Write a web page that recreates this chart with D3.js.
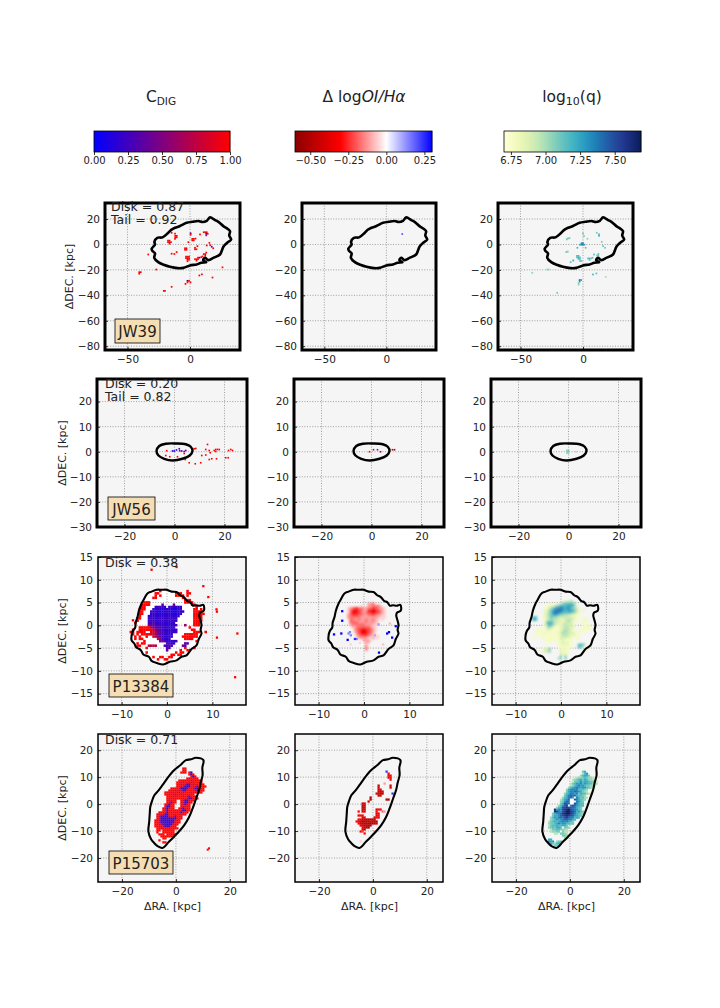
<!DOCTYPE html>
<html>
<head>
<meta charset="utf-8">
<script src="https://cdn.jsdelivr.net/npm/d3@7"></script>
<style>
  html, body { margin: 0; padding: 0; background: #fff; }
  text { font-family: "DejaVu Sans", sans-serif; fill: #222; }
  .grid line { stroke: #8a8a8a; stroke-width: 0.8; stroke-dasharray: 1 1.6; }
  .tick text { font-size: 10.5px; }
  .tick line { stroke: #000; stroke-width: 0.8; }
  .domain { display: none; }
</style>
</head>
<body>
<script>
// galaxy names, fractions and axis ticks
const names = ['JW39', 'JW56', 'P13384', 'P15703'];
const diskTexts = ['Disk = 0.87', 'Disk = 0.20', 'Disk = 0.38', 'Disk = 0.71'];
const tailTexts = ['Tail = 0.92', 'Tail = 0.82', null, null];
const xTicks = [[-50, 0], [-20, 0, 20], [-10, 0, 10], [-20, 0, 20]];
const yTicks = [[-80, -60, -40, -20, 0, 20], [-30, -20, -10, 0, 10, 20],
  [-15, -10, -5, 0, 5, 10, 15], [-20, -10, 0, 10, 20]];
const xLimits = [[-68, 40], [-31, 29], [-15.2, 17.4], [-28.9, 26]];
const yLimits = [[-83, 32.6], [-30, 29], [-17.5, 15], [-28.9, 26]];

// colour bars
const cbarDomains = [[0, 1], [-0.6, 0.3], [6.7, 7.69]];
const cbarTicks = [[0, 0.25, 0.5, 0.75, 1], [-0.5, -0.25, 0, 0.25], [6.75, 7, 7.25, 7.5]];

// outlines of the disks, kpc
const jw39Contour = [[-30.7,-3.4],[-28,0],[-28.5,2],[-26.2,5.2],[-22,5.6],[-17.4,9.2],[-15,11.5],[-12,13.1],[-8,14.5],[-2.7,17],
  [2,17.8],[6.7,18.4],[10,17.6],[13.4,18.6],[16,21.3],[20,19.2],[23,17.6],[26.7,14.4],[29,13],[32,10.5],[31.4,7],[32.9,3.9],
  [30,1.5],[26.7,-1.8],[25.4,-5],[24,-7.9],[19,-10.4],[14.7,-12.3],[12,-10.5],[10.5,-12.5],[13,-14],[9,-14.4],[5.3,-15.7],
  [0,-16.5],[-5.3,-18.4],[-10,-18.6],[-16,-17.6],[-21,-16],[-25.4,-13.9],[-28.6,-10.5],[-28,-7],[-30,-5.2]];
const jw56Contour = [[-7.2,0.3],[-6.1,2.3],[-3.5,3.2],[0.5,3.3],[4.5,3],[6.5,2],[7.2,0.3],[6.1,-1.5],[3.2,-2.8],[-0.8,-3.5],[-4.1,-2.8],[-6.4,-1.5]];
const p13384Contour = [[-7.8,-2.2],[-7.5,-1.2],[-7,-0.5],[-6.9,0.6],[-6.5,1.8],[-6.2,3.2],[-5.6,4.8],[-5.2,5.5],[-4.3,7],[-3.4,7.4],[-2.3,7.8],[-1.2,7.8],
  [-0.1,7.8],[1,7.4],[2.1,7.3],[2.9,6.6],[3.7,6.2],[4.5,5.3],[5.1,5.1],[5.7,4.3],[6.4,4.4],[7.2,4.3],[8,4.5],[8.2,3.8],[8.1,3.2],[7.3,2.8],[7.1,2.2],[7.4,1],
  [7.6,0],[7.4,-1],[7.6,-1.8],[7,-3],[6.5,-4.4],[5.4,-5.2],[4.3,-6.6],[3.2,-6.9],[2.1,-7.7],[0.6,-8],[-0.8,-8.6],[-2.2,-8.3],[-3.4,-7.8],[-4,-6.9],[-5.2,-6.4],
  [-5.8,-5.4],[-6.8,-4.8],[-7.2,-4],[-7.8,-3.3]];
const p15703Contour = [[-10.2,-10.2],[-9.9,-6.5],[-9.7,-3.5],[-9.5,-1],[-8.9,1],[-8,3.3],[-6.5,5],[-5,7],[-3,9.8],[-0.6,12.6],[1.6,14.4],[3.7,16.3],[5.6,16.6],
  [7.4,17.2],[10.2,16.3],[9.8,13.5],[9.9,10.7],[9.2,8],[8.6,5.2],[7.4,1.8],[6.2,-1.6],[4.8,-5],[3.1,-7.8],[1.3,-10],[-0.6,-12],[-2.6,-14],[-5,-16.3],[-6.8,-15.6],[-8,-14.5],[-9.2,-13]];
const contours = [jw39Contour, jw56Contour, p13384Contour, p15703Contour];

// sparse maps: [ra, dec, value]
const jw39Dig = [[-17.6,3,1],[-16.4,3,1],[-17.6,1.8,1],[-16.4,1.8,1],[-15.2,1.8,1],[-16.4,0.6,1],[-11.8,6.8,1],[-10.6,6.8,1],[-11.8,5.6,1],[-10.6,5.6,1],[-12,4.4,1],
  [1.8,4.4,1],[3,4.4,1],[1.8,3.2,1],[3,3.2,1],[4.4,4.6,1],[0.5,8.8,0.3],[0.5,7.6,1],[11,9.6,1],[12.2,9.6,1],[13.4,9.6,1],[13,8.4,0.15],[13,7.2,0.6],[14.2,8.4,1],
  [17.4,-1.8,0.25],[16.2,-0.6,1],[18.6,-3,1],[-4,-3,1],[-2.8,-3,1],[-4,-4.2,1],[-2.8,-4.2,1],[4,-2.6,1],[4,-3.8,1],[5.2,-3.8,1],
  [-3.2,-9.6,1],[-2,-9.6,1],[-0.8,-9.6,1],[-3.2,-10.8,1],[-2,-10.8,1],[-0.8,-10.8,1],[-2,-12,1],[-0.8,-12,1],[-2,-13.2,1],
  [4,-11.6,1],[5.2,-11.6,1],[6.4,-10.4,1],[7.6,-10.4,0.3],[6.4,-11.6,1],[5.2,-12.8,1],[9,-10,1],[11,-7.6,1],[12.2,-7.6,1],[12.2,-8.8,1],[10,-9.4,1],[13,-6.4,1],
  [-2,-28.6,0.2],[-0.8,-28.6,0.95],[-2,-29.8,1],[0.4,-29.8,1],[-3.6,-31,1],[-40.6,-21.8,1],[-39.4,-21.8,1],[-40.6,-23,1],[-21,-36.5,1],[-20,-36.5,1],
  [7.5,-24.4,1],[9.5,-23.5,1],[26,-18,1],[18,-26,1],[-14.7,-33.3,1],[-27,-19.7,1],[-30,17,1],[-33.4,-7.9,1],[-10.7,-6,1],[-12.5,-7.5,1],[-14.7,-7.3,1],
  [-1.3,1.8,1],[15.5,1.3,1],[13.4,-0.8,1],[8,7.9,1],[-14.7,9.2,1],[-12,8.5,1],[5.9,-1.3,1]];
const jw39Oi = [[12.8,8.2,0.2]];
const jw39Q = [[-1.2,1,7.3],[0,1,7.32],[-1.2,-0.2,7.35],[0,-0.2,7.38],[-2.4,-0.2,7.25],[1.2,-0.2,7.25],
  [-4.8,-9,7.18],[-3.6,-9,7.2],[-4.8,-10.2,7.16],[-3.6,-10.2,7.2],[-2.4,-10.2,7.14],[-3.6,-11.4,7.15],[-2.4,-11.4,7.18],[-1.2,-13,7.12],[-2.4,-13,7.14],
  [4,-11,7.15],[5.2,-11,7.18],[6.4,-11,7.14],[5.2,-12.2,7.12],[7.6,-10.5,7.16],[12.3,-7.5,7.15],[12.3,-8.7,7.12],[11.2,-8.7,7.1],[13,-12,7.1],
  [12.8,8,7.18],[12.8,6.8,7.22],[11,9.2,7.1],[-12,4.7,7.12],[-10.8,5,7.1],[-13,4,7.1],[-2.7,-28,7.42],[-1.5,-28,7.3],[-2.7,-29.2,7.3],[-3.5,-30.4,7.08],[-3.5,-31.6,7.05],
  [-13.4,-6,7.1],[-12.2,-5.6,7.08],[-20.6,-38,7.1],[-40.6,-22.3,7.05],[-28.6,-19.7,7.05],[-27.5,-19.7,7.05],[-7.8,-12.6,7.25],[-9.9,-13.9,7.15],
  [0,8.7,7.1],[0.8,6.6,7.1],[2.1,-2.6,7.15],[-4.5,-2.6,7.2],[3.5,4.5,7.05],[15,2.1,7.08],[17.6,-2.6,7.1],[16,-1.3,7.12],[10.7,-22.8,7.15],[8,-23.6,7.2],[18.2,-25.5,7],[8.8,-7.9,7.15]];
const jw56Dig = [[-3.1,0.4,1],[-3.5,-1.5,1],[-1.9,-2,1],[1.2,-2,1],[3.9,-0.7,1],[4.3,-3.1,1],[7.9,1.2,1],[8.5,1.3,1],[13.2,2.9,1],[12.5,0.9,1],[12.5,-1.3,1],[10.9,-1.5,1],
  [13.9,0.5,1],[14.3,-0.4,1],[15.9,0.5,1],[16.5,0.9,1],[16.5,0.1,1],[17.2,0.9,1],[17.9,0.9,1],[21.6,0.5,1],[22.5,0.9,1],[23.2,0.5,1],[20.5,-2.4,1],[21.5,-2.4,1],
  [8.3,-4.8,1],[10.5,-4.4,1],[5.9,-4.4,1],[13.9,-3.1,1],[14.9,-2.8,1],[16.8,-2.8,1],
  [-0.8,0.3,0.1],[-0.1,0.3,0.05],[0.8,0.7,0.05],[1.9,1.2,0.4],[2.1,0.4,0.4],[2.9,0.3,0.35],[3.9,0.1,0.4],[4.5,0.5,0.45]];
const jw56Oi = [[-0.8,0,-0.3],[0.8,0.8,-0.4],[3.6,0,-0.5],[2.4,0.8,0.25],[8.4,0.8,-0.5],[9.2,0.8,-0.55]];
const jw56Q = [[-0.6,0.6,7.05],[0,0.6,7.08],[-0.6,0,7.12],[0,0,7.1],[-0.6,-0.6,7.05],[0,-0.6,7.02],[3,0,7]];
const p13384OiSpots = [[-4.8,3.1,0.3],[-4.8,1,0.3],[-5,-1.8,0.3],[-6.6,-2,0.3],[-3.4,-1.8,0.15],[-3.1,-1.5,0.15],[-2.9,-2.2,0.15],[-3.6,-3.2,0.3],[-1.6,-3,0.15],[-2,-3,0.25],
  [2.4,-2.2,0.1],[3.2,0.2,0.12],[5.1,-1.8,0.3],[5.5,-1.5,0.3],[7,-0.2,0.3],[6.2,-2.7,0.3],[3.3,-6,0.3],[5.7,0.4,-0.08],[4.2,-4.2,-0.07],[-2.9,-4.2,-0.05],[-0.9,-3.9,-0.05]];
const p13384DigSpots = [[-3.4,12.2,1],[2.1,12.8,1],[8,8.6,1],[9.1,6.2,1],[15,-11.4,1],[15.5,-1.8,1],[11,-2.7,1],[10.9,3.5,1],[11,3,1],[-7.5,1.1,1]];
const p15703DigSpots = [[12.3,-16.4,1],[11.8,-16.9,1]];

// raster maps, one hex digit per cell from the low to the high end of the colour bar, "." empty, "_" white
const p13384DigRows = [
  '',
  '',
  '...............f...........f',
  '.............ff.......fff..ff',
  '.............f.f......ffff.f',
  '............ff...........f',
  '..........................fff',
  '........fff...............ffff',
  '.......ffff.....5....6.......ff',
  '.......ff....34433.343333......f',
  '......fff...3332233322233.....ff.f',
  '......ff...333222333222233....ffff',
  '......ff...33332233322233.....fffff',
  '......f...34333333333333......ffff',
  '.....ff...3433333333334.......ffff',
  '.....f....3433334333343.......ffff',
  '....f.....444433333333........fff',
  '..........6654433333335...9...fff',
  '......fffffa7544333334......f',
  '...f..ffffffb8654333333......ff',
  '..ff.ffff..ddb654433334.......fff..f',
  '...f.f.ffffdc96433333.....ffffff',
  '....f.f..f..da7533333....fffffff',
  '....f.ff......b83333......ffff',
  '........f......66433334........f',
  '.....f.ff.........5333....64',
  '.....ff...bbbb...4444....64',
  '.........f........54......f...f',
  '..................5.....f..ff',
  '.........f............f.ff',
  '....................ff.ff',
  '............f..ff..ff',
  '..............f..ff'];
const p13384OiRows = [
  '',
  '............887',
  '.........9..887778',
  '...98765778877567889',
  '...97555678855456789',
  '...97555678766456789',
  '...87666778877678899',
  '...87777788888888999',
  '....7788788788789.9',
  '....7777888788889',
  '....8777777888899',
  '.....88777777899',
  '......8766566789',
  '......8765456789',
  '......9765456789a',
  '.......87665789.9',
  '........88889.899',
  '..........8889',
  '...........88',
  '.........a.8a',
  '...........79',
  '...........7'];
const p13384QRows = [
  '...............3344',
  '........1...14577775',
  '......1.2235788788862',
  '......11357a9a98a8653',
  '......22579abb98898742.2',
  '......2357aba877776531',
  '......2356887554432211',
  '.77..1235755433433321..1',
  '.87...134544322344321..12',
  '......2677433223442..1.11',
  '......26875322343331...111',
  '......14752112344332...1121',
  '...11.1332111234432...11111',
  '..1111.1211112454321.1111',
  '..11112111112354433211',
  '..1.11111111124442221',
  '.1...1.111111333221.11',
  '......1111111221111..1',
  '.......11...113221',
  '............1222211..776',
  '......1.....1111111..76.11',
  '....1.336....2221.......2',
  '.....1335....2111',
  '.............2221',
  '.............5.5',
  '............46_6'];
const p15703DigRows = [
  '..............ff',
  '..............ef',
  '.............fff.f4',
  '.................f5f',
  '..................f3f',
  '................eeffef',
  '............ffeeffeeffff',
  '...........ffeeffddeefff',
  '...........ffeed55fdfefff',
  '...........efed443fdd6efff',
  '........fffff4436fee55dff',
  '.......fffeeed53fffee66ff',
  '.....fffeeeedfefffefeeff',
  '.....ffeeedefeefffef',
  '......fffeefffefd6fff',
  '......ffefffffefd55eff',
  '......fdfff..fe44eff',
  '......ff5ff..fd44ef',
  '.....fe4ff...fe5ef',
  '.....f43ff...feeef',
  '....fd4eff..fd4eff',
  '....ff4ffffffe44ef',
  '..fffe5fffeff5eff',
  '.fdee54efefffeef',
  '.fe5443dff6ffe',
  '.fe43344664eff',
  'fed4333443def',
  'ffe5443344eff',
  'ffed54434def',
  'fffed443eff',
  '.ffeeffeffff',
  '.ff.ffffff',
  '.f..ffffff',
  '..fff.fffff',
  '...fffffff',
  '....ff',
  '..f',
  '....ff'];
const p15703OiRows = [
  '',
  '...................e',
  '....................5',
  '....................45',
  '....................45',
  '.....................4',
  '',
  '..................8',
  '...............3.....4',
  '...............3.....3',
  '...............34',
  '...............323',
  '..............4322....e',
  '...............33',
  '...........2',
  '...........2.......22',
  '..........3',
  '.......34',
  '.......23',
  '.......23',
  '.......23.....455',
  '.....5.34.....5..78',
  '..............44',
  '.....455......45',
  '.......35....354',
  '.....453222222',
  '....54312223322',
  '.....5322221223',
  '......432222',
  '.......4321',
  '.......32',
  '......56.....8',
  '........5',
  '',
  '',
  '',
  '......9'];
const p15703QRows = [
  '..................68',
  '..................479',
  '.................57886',
  '..............3455676554',
  '.............456786875544',
  '.............3667978876653',
  '............46798a79877544',
  '............4578a89766553',
  '...........5789a98997654',
  '..........589a9a77765',
  '..........68a9ba98654',
  '.........578aa8a6877543',
  '.........68abab87765',
  '........578ab9_a86754',
  '.......4689b__ca8765',
  '.......569ba___a976',
  '.......68cbb__ca877',
  '......579bd_acb9877',
  '.....578ccdcbba876',
  '....e8a9cdefcba976',
  '....eda9cdffdcb8976',
  '...689abdeffdca8765',
  '...6889bcdedcb9876',
  '..5798abacdbaa787',
  '..567989abbaa87',
  '.4678789a9a876',
  '.56678a8997766',
  '.4677877886',
  '.5676887_665',
  '..466776554',
  '..45566_644',
  '....44.6654',
  '........665',
  '.........54',
  '.88',
  '.989.567',
  '..86578',
  '....667'];

// which map goes into which panel: [sparse cells, raster rows]
const digMaps = [[jw39Dig, null], [jw56Dig, null], [p13384DigSpots, p13384DigRows], [p15703DigSpots, p15703DigRows]];
const oiMaps = [[jw39Oi, null], [jw56Oi, null], [p13384OiSpots, p13384OiRows], [[], p15703OiRows]];
const qMaps = [[jw39Q, null], [jw56Q, null], [[], p13384QRows], [[], p15703QRows]];
const columnMaps = [digMaps, oiMaps, qMaps];

// cell size and raster corner per map
const cellSizes = [1.35, 0.65, 0.5, 0.74];
const rasterCorners = [
  [null, null, [-9.25, 8.8], [-8, 13.6]],
  [null, null, [-5.25, 5.5], [-9.4, 13.2]],
  [null, null, [-6.8, 5.5], [-8.9, 12.4]]
];

// layout of the figure, pixels
const columnsByRow = [
  [[105, 240], [302, 436], [498, 633]],
  [[97, 247], [294, 444], [491, 641]],
  [[98, 246], [295, 443], [492, 640]],
  [[98, 246], [295, 443], [492, 640]]
];
const rowBands = [[203, 350], [379, 527], [557, 705], [734, 882]];
const frameWidths = [3, 3, 1.5, 1.5];
const contourWidths = [2.6, 2.4, 2.1, 2.1];
const nameBoxes = [[115, 319, 45, 24], [108, 497, 47, 23], [109, 674, 64, 23], [109, 851, 64, 23]];
const diskBaselines = [[111, 211], [105, 388], [105, 567], [105, 744]];
const tailBaselines = [[111, 224], [105, 401]];
const yLabelX = [73, 66, 66, 66];

const blueRed = d3.scaleLinear().domain([0, 1]).range(['#0000ff', '#ff0000']);
const oiColor = d3.scaleLinear().domain([-0.6, -0.3, 0, 0.3]).range(['#8b0000', '#ff0000', '#ffffff', '#0000ff']);
const qColor = d3.scaleSequential(d3.interpolateYlGnBu).domain([6.7, 7.69]);
const colorScales = [blueRed, oiColor, qColor];

const svg = d3.select('body').append('svg').attr('width', 720).attr('height', 1008);

// the smooth P13384 maps look slightly resampled in the original
svg.append('defs').append('filter').attr('id', 'soft')
  .append('feGaussianBlur').attr('stdDeviation', 0.8);

// ---- titles
const titles = svg.append('g').style('font-size', '15.5px');
const t1 = titles.append('text').attr('x', 161).attr('y', 102).attr('text-anchor', 'middle');
t1.append('tspan').text('C');
t1.append('tspan').text('DIG').attr('dy', 3).style('font-size', '10.5px');
const t2 = titles.append('text').attr('x', 364).attr('y', 102).attr('text-anchor', 'middle');
t2.append('tspan').text('Δ log');
t2.append('tspan').text('OI/Hα').style('font-style', 'italic');
const t3 = titles.append('text').attr('x', 572).attr('y', 102).attr('text-anchor', 'middle');
t3.append('tspan').text('log');
t3.append('tspan').text('10').attr('dy', 3).style('font-size', '11px');
t3.append('tspan').text('(q)').attr('dy', -3);

// ---- colour bars
const cbarSpans = [[94, 230], [295, 432], [504, 641]];
cbarSpans.forEach((span, c) => {
  const x = d3.scaleLinear().domain(cbarDomains[c]).range(span);
  const g = svg.append('g');
  d3.range(span[0], span[1]).forEach(px => {
    g.append('rect').attr('x', px).attr('y', 131).attr('width', 1.3).attr('height', 21)
      .attr('fill', colorScales[c](x.invert(px + 0.5)));
  });
  g.append('rect').attr('x', span[0]).attr('y', 131).attr('width', span[1] - span[0]).attr('height', 21)
    .attr('fill', 'none').attr('stroke', '#000').attr('stroke-width', 0.8);
  const ax = g.append('g').attr('transform', 'translate(0,152)')
    .call(d3.axisBottom(x).tickValues(cbarTicks[c]).tickFormat(d3.format('.2f')).tickSize(3).tickPadding(2));
  ax.selectAll('text').style('font-size', '10px');
});

// ---- panels
const line = d3.line().curve(d3.curveCatmullRomClosed.alpha(0.5));

names.forEach((name, r) => {
  columnMaps.forEach((maps, c) => {
    const [x0, x1] = columnsByRow[r][c];
    const [y0, y1] = rowBands[r];
    const x = d3.scaleLinear().domain(xLimits[r]).range([x0, x1]);
    const y = d3.scaleLinear().domain(yLimits[r]).range([y1, y0]);
    const color = colorScales[c];
    const g = svg.append('g');

    g.append('rect').attr('x', x0).attr('y', y0).attr('width', x1 - x0).attr('height', y1 - y0).attr('fill', '#f5f5f5');

    const path = line.x(d => x(d[0])).y(d => y(d[1]));
    // P13384 shows white where the C_DIG map has no value inside the disk
    if (r === 2 && c === 0) g.append('path').attr('d', path(contours[r])).attr('fill', '#fff');

    const gridG = g.append('g').attr('class', 'grid');
    gridG.selectAll('.v').data(xTicks[r]).enter().append('line').attr('class', 'v')
      .attr('x1', d => x(d)).attr('x2', d => x(d)).attr('y1', y0).attr('y2', y1);
    gridG.selectAll('.h').data(yTicks[r]).enter().append('line').attr('class', 'h')
      .attr('y1', d => y(d)).attr('y2', d => y(d)).attr('x1', x0).attr('x2', x1);

    const [cells, rows] = maps[r];
    const size = cellSizes[r];
    const w = Math.abs(x(size) - x(0));
    const h = Math.abs(y(size) - y(0));

    if (rows) {
      const [cx, cy] = rasterCorners[c][r];
      const lo = cbarDomains[c][0];
      const hi = cbarDomains[c][1];
      const rasterG = g.append('g');
      if (r === 2 && c > 0) rasterG.attr('filter', 'url(#soft)');
      rows.forEach((row, i) => {
        row.split('').forEach((ch, j) => {
          if (ch === '.') return;
          rasterG.append('rect')
            .attr('x', x(cx + j * size)).attr('y', y(cy - i * size))
            .attr('width', w + 0.25).attr('height', h + 0.25)
            .attr('fill', ch === '_' ? '#fff' : color(lo + (hi - lo) * parseInt(ch, 16) / 15));
        });
      });
    }

    g.selectAll('.cell').data(cells).enter().append('rect').attr('class', 'cell')
      .attr('x', d => x(d[0]) - w / 2).attr('y', d => y(d[1]) - h / 2)
      .attr('width', w).attr('height', h)
      .attr('fill', d => color(d[2]));

    g.append('path').attr('d', path(contours[r])).attr('fill', 'none')
      .attr('stroke', '#000').attr('stroke-width', contourWidths[r]).attr('stroke-linejoin', 'round');

    g.append('g').attr('transform', `translate(0,${y1})`)
      .call(d3.axisBottom(x).tickValues(xTicks[r]).tickFormat(d3.format('d')).tickSize(-3).tickPadding(6));
    g.append('g').attr('transform', `translate(${x0},0)`)
      .call(d3.axisLeft(y).tickValues(yTicks[r]).tickFormat(d3.format('d')).tickSize(-3).tickPadding(5));

    g.append('rect').attr('x', x0).attr('y', y0).attr('width', x1 - x0).attr('height', y1 - y0)
      .attr('fill', 'none').attr('stroke', '#000').attr('stroke-width', frameWidths[r]);

    if (r === 3) {
      g.append('text').attr('x', (x0 + x1) / 2 + 0.5).attr('y', 910).attr('text-anchor', 'middle')
        .style('font-size', '11px').text('ΔRA. [kpc]');
    }
  });

  // text of the first column only
  const ly = d3.mean(rowBands[r]);
  svg.append('text').attr('transform', `translate(${yLabelX[r]},${ly}) rotate(-90)`)
    .attr('text-anchor', 'middle').style('font-size', '11px').text('ΔDEC. [kpc]');

  svg.append('text').attr('x', diskBaselines[r][0]).attr('y', diskBaselines[r][1])
    .style('font-size', '12.5px').text(diskTexts[r]);
  if (tailTexts[r]) {
    svg.append('text').attr('x', tailBaselines[r][0]).attr('y', tailBaselines[r][1])
      .style('font-size', '12.5px').text(tailTexts[r]);
  }

  const [bx, by, bw, bh] = nameBoxes[r];
  svg.append('rect').attr('x', bx).attr('y', by).attr('width', bw).attr('height', bh)
    .attr('fill', '#f5deb3').attr('stroke', '#000').attr('stroke-width', 0.8);
  svg.append('text').attr('x', bx + bw / 2).attr('y', by + bh / 2 + 6).attr('text-anchor', 'middle')
    .style('font-size', '15px').text(name);
});
</script>
</body>
</html>
